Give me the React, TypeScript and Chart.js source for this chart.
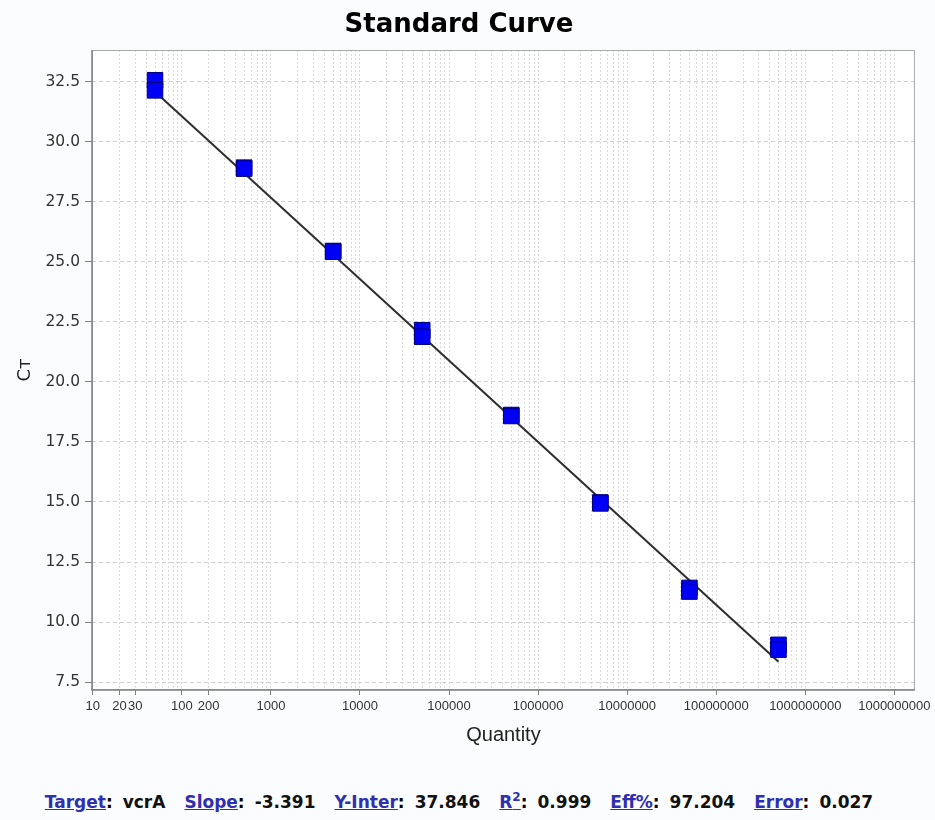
import React, { useEffect, useRef } from "react";
import { Chart, registerables } from "chart.js";

Chart.register(...registerables);

// Standard dilution series (copies) and measured Ct for the two replicates
const quantities = [50, 500, 5000, 50000, 500000, 5000000, 50000000, 500000000];
const ctReplicateA = [32.56, 28.92, 25.45, 22.15, 18.62, 14.98, 11.42, 9.05];
const ctReplicateB = [32.14, 28.88, 25.42, 21.88, 18.58, 14.94, 11.27, 8.85];

// Labelled x ticks (log axis) and their texts
const xTickValues = [10, 20, 30, 100, 200, 1e3, 1e4, 1e5, 1e6, 1e7, 1e8, 1e9, 1e10];
const xTickLabels = [
  "10", "20", "30", "100", "200", "1000", "10000", "100000", "1000000",
  "10000000", "100000000", "1000000000", "1000000000",
];
const yTickValues = [7.5, 10, 12.5, 15, 17.5, 20, 22.5, 25, 27.5, 30, 32.5];

// Regression summary
const target = "vcrA";
const slope = -3.391;
const yIntercept = 37.846;
const rSquared = 0.999;
const efficiency = 97.204;
const fitError = 0.027;

const X_MIN = 9.8;
const X_MAX = 1.7e10;
const Y_MIN = 7.17;
const Y_MAX = 33.82;

const CANVAS_W = 935;
const CANVAS_H = 760;

// every 1..9 x 10^n inside the axis range: one dotted grid line each
const gridValues: number[] = [];
for (let e = 1; e <= 10; e++) {
  for (let k = 1; k <= 9; k++) {
    const v = k * Math.pow(10, e);
    if (v <= X_MAX) gridValues.push(v);
  }
}

const labelIndex = (v: number) =>
  xTickValues.findIndex((t) => Math.abs(t - v) / t < 1e-9);

const plotFrame = {
  id: "plotFrame",
  beforeDraw(chart: any) {
    const { ctx, chartArea: a, width, height } = chart;
    ctx.save();
    ctx.fillStyle = "#fbfcfe";
    ctx.fillRect(0, 0, width, height);
    ctx.fillStyle = "#ffffff";
    ctx.fillRect(a.left, a.top, a.right - a.left, a.bottom - a.top);
    ctx.restore();
  },
  beforeDatasetsDraw(chart: any) {
    const { ctx, chartArea: a } = chart;
    ctx.save();
    ctx.strokeStyle = "#a8a8a8";
    ctx.lineWidth = 1;
    ctx.strokeRect(a.left + 0.5, a.top + 0.5, a.right - a.left - 1, a.bottom - a.top - 1);
    ctx.strokeStyle = "#808080";
    ctx.lineWidth = 1.5;
    ctx.beginPath();
    ctx.moveTo(a.left, a.top);
    ctx.lineTo(a.left, a.bottom);
    ctx.lineTo(a.right, a.bottom);
    ctx.stroke();
    ctx.restore();
  },
};

const fitAt = (q: number) => yIntercept + slope * Math.log10(q);

export default function App() {
  const canvasRef = useRef<HTMLCanvasElement>(null);

  useEffect(() => {
    const canvas = canvasRef.current;
    if (!canvas) return;

    const points = quantities.flatMap((q, i) => [
      { x: q, y: ctReplicateA[i] },
      { x: q, y: ctReplicateB[i] },
    ]);
    const first = quantities[0];
    const last = quantities[quantities.length - 1];
    const fitLine = [
      { x: first, y: fitAt(first) },
      { x: last, y: fitAt(last) },
    ];

    const chart = new Chart(canvas, {
      type: "scatter",
      data: {
        datasets: [
          {
            label: "Standards",
            data: points,
            pointStyle: "rect",
            pointRadius: 11,
            pointBackgroundColor: "#0000f4",
            pointBorderColor: "#00007a",
            pointBorderWidth: 1,
            showLine: false,
          },
          {
            label: "Fit",
            type: "line",
            data: fitLine,
            borderColor: "#2e2e2e",
            borderWidth: 2,
            pointRadius: 0,
            fill: false,
          },
        ],
      },
      options: {
        responsive: false,
        animation: false,
        events: [],
        layout: { padding: { left: 0, right: 20, top: 50, bottom: 0 } },
        plugins: {
          legend: { display: false },
          tooltip: { enabled: false },
          title: { display: false },
        },
        scales: {
          x: {
            type: "logarithmic",
            min: X_MIN,
            max: X_MAX,
            afterBuildTicks: (axis: any) => {
              axis.ticks = gridValues.map((v) => ({ value: v }));
            },
            afterFit: (scale: any) => {
              scale.height = 70;
            },
            ticks: {
              autoSkip: false,
              maxRotation: 0,
              minRotation: 0,
              padding: 4,
              color: "#333333",
              font: { family: "'Liberation Sans', Arial, sans-serif", size: 13 },
              callback: (value: any) => {
                const i = labelIndex(Number(value));
                return i >= 0 ? xTickLabels[i] : "";
              },
            },
            grid: {
              color: "#dadada",
              lineWidth: 1,
              tickLength: 5,
              tickColor: (ctx: any) =>
                ctx.tick && labelIndex(ctx.tick.value) >= 0 ? "#808080" : "rgba(0,0,0,0)",
            },
            border: { display: false, dash: [2, 2] },
            title: {
              display: true,
              text: "Quantity",
              color: "#222222",
              font: { family: "'Liberation Sans', Arial, sans-serif", size: 20 },
              padding: { top: 0, bottom: 13 },
            },
          },
          y: {
            type: "linear",
            min: Y_MIN,
            max: Y_MAX,
            afterBuildTicks: (axis: any) => {
              axis.ticks = yTickValues.map((v) => ({ value: v }));
            },
            afterFit: (scale: any) => {
              scale.width = 92;
            },
            ticks: {
              padding: 5,
              color: "#333333",
              font: { family: "'DejaVu Sans', sans-serif", size: 15.5 },
              callback: (value: any) => Number(value).toFixed(1),
            },
            grid: {
              color: "#d0d0d0",
              lineWidth: 1,
              tickLength: 7,
              tickColor: "#808080",
            },
            border: { display: false, dash: [4, 3] },
            title: {
              display: true,
              text: "C\u1D1B",
              color: "#222222",
              font: { family: "'DejaVu Sans', sans-serif", size: 18 },
              padding: { top: 15, bottom: 0 },
            },
          },
        },
      },
      plugins: [plotFrame],
    } as any);

    return () => chart.destroy();
  }, []);

  const font = "'DejaVu Sans', Verdana, sans-serif";
  const linkStyle: React.CSSProperties = {
    color: "#2f2fb0",
    textDecoration: "underline",
  };
  const valueStyle: React.CSSProperties = { color: "#111111", marginLeft: 10, marginRight: 19 };

  return (
    <div
      style={{
        position: "fixed",
        left: 0,
        top: 0,
        width: CANVAS_W,
        height: 820,
        background: "#fbfcfe",
        overflow: "hidden",
      }}
    >
      <canvas
        ref={canvasRef}
        width={CANVAS_W}
        height={CANVAS_H}
        style={{ position: "absolute", left: 0, top: 0 }}
      />
      <div
        style={{
          position: "absolute",
          left: 0,
          top: 8,
          width: 918,
          textAlign: "center",
          fontFamily: font,
          fontWeight: "bold",
          fontSize: 26,
          lineHeight: "30px",
          color: "#000000",
        }}
      >
        Standard Curve
      </div>
      <div
        style={{
          position: "absolute",
          left: 0,
          width: 918,
          top: 791,
          textAlign: "center",
          fontFamily: font,
          fontWeight: "bold",
          fontSize: 17,
          lineHeight: "22px",
          whiteSpace: "nowrap",
        }}
      >
        <span style={linkStyle}>Target</span>:
        <span style={valueStyle}>{target}</span>
        <span style={linkStyle}>Slope</span>:
        <span style={valueStyle}>{slope.toFixed(3)}</span>
        <span style={linkStyle}>Y-Inter</span>:
        <span style={valueStyle}>{yIntercept.toFixed(3)}</span>
        <span style={linkStyle}>
          R<sup style={{ fontSize: 12, lineHeight: 0 }}>2</sup>
        </span>
        :
        <span style={valueStyle}>{rSquared.toFixed(3)}</span>
        <span style={linkStyle}>Eff%</span>:
        <span style={valueStyle}>{efficiency.toFixed(3)}</span>
        <span style={linkStyle}>Error</span>:
        <span style={{ ...valueStyle, marginRight: 0 }}>{fitError.toFixed(3)}</span>
      </div>
    </div>
  );
}
